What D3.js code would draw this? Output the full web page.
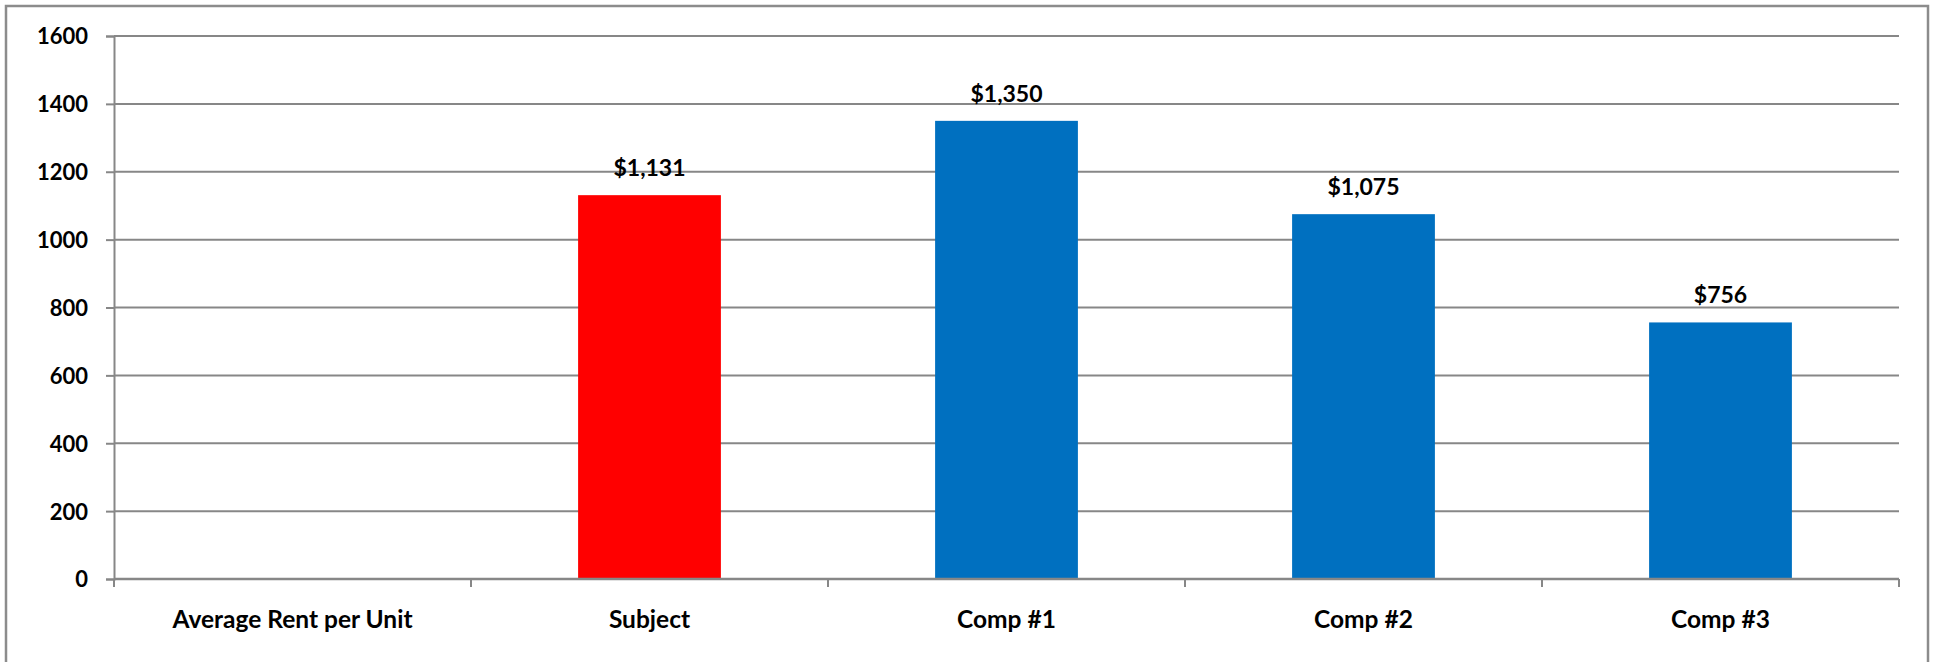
<!DOCTYPE html>
<html>
<head>
<meta charset="utf-8">
<script src="https://cdn.jsdelivr.net/npm/d3@7"></script>
<style>
  html, body { margin: 0; padding: 0; background: #fff; }
  svg { display: block; }
  text { font-family: Lato, "Open Sans", sans-serif; font-weight: bold; fill: #000; }
</style>
</head>
<body>
<svg id="chart" width="1942" height="662"></svg>
<script>
const categories = ["Average Rent per Unit", "Subject", "Comp #1", "Comp #2", "Comp #3"];
const values = [null, 1131, 1350, 1075, 756];
const valueLabels = ["", "$1,131", "$1,350", "$1,075", "$756"];
const barColors = ["#0070C0", "#FF0000", "#0070C0", "#0070C0", "#0070C0"];
const yTicks = [0, 200, 400, 600, 800, 1000, 1200, 1400, 1600];

const W = 1942, H = 662;
const margin = { left: 114, right: 43, top: 36, bottom: 83 };
const svg = d3.select("#chart");
const gridColor = "#878787";

// outer border
svg.append("rect")
  .attr("x", 6).attr("y", 6)
  .attr("width", 1922).attr("height", 680)
  .attr("fill", "none").attr("stroke", "#8c8c8c").attr("stroke-width", 2.5);

const x = d3.scaleBand().domain(categories)
  .range([margin.left, W - margin.right]).paddingInner(0).paddingOuter(0);
const y = d3.scaleLinear().domain([0, 1600]).range([H - margin.bottom, margin.top]);

// gridlines
svg.append("g").selectAll("line").data(yTicks.filter(d => d > 0)).join("line")
  .attr("x1", margin.left).attr("x2", W - margin.right)
  .attr("y1", d => y(d)).attr("y2", d => y(d))
  .attr("stroke", gridColor).attr("stroke-width", 2);

// y axis
const yAxis = svg.append("g").attr("transform", `translate(${margin.left},0)`)
  .call(d3.axisLeft(y).tickValues(yTicks).tickSize(8).tickPadding(18).tickFormat(d3.format("d")));
yAxis.select(".domain").attr("stroke", gridColor).attr("stroke-width", 2);
yAxis.selectAll(".tick line").attr("stroke", gridColor).attr("stroke-width", 2);
yAxis.selectAll(".tick text").attr("font-size", 22).attr("font-family", "Lato, sans-serif")
  .attr("font-weight", "bold").attr("fill", "#000").attr("dy", "0.36em");

// bars
const barW = x.bandwidth() * 0.4;
const barData = categories.map((c, i) => ({ c, v: values[i], label: valueLabels[i], color: barColors[i] }))
  .filter(d => d.v !== null);
svg.append("g").selectAll("rect").data(barData).join("rect")
  .attr("x", d => x(d.c) + (x.bandwidth() - barW) / 2)
  .attr("width", barW)
  .attr("y", d => y(d.v))
  .attr("height", d => y(0) - y(d.v))
  .attr("fill", d => d.color);

// value labels
svg.append("g").selectAll("text").data(barData).join("text")
  .attr("x", d => x(d.c) + x.bandwidth() / 2)
  .attr("y", d => y(d.v) - 19)
  .attr("text-anchor", "middle")
  .attr("font-size", 23)
  .text(d => d.label);

// x axis
const xAxisG = svg.append("g").attr("transform", `translate(0,${y(0)})`);
xAxisG.append("line")
  .attr("x1", margin.left).attr("x2", W - margin.right)
  .attr("y1", 0).attr("y2", 0)
  .attr("stroke", gridColor).attr("stroke-width", 2.5);
const boundaries = categories.map(c => x(c)).concat([x(categories[categories.length - 1]) + x.bandwidth()]);
xAxisG.selectAll("line.tk").data(boundaries).join("line").attr("class", "tk")
  .attr("x1", d => d).attr("x2", d => d).attr("y1", 0).attr("y2", 8)
  .attr("stroke", gridColor).attr("stroke-width", 2);
xAxisG.selectAll("text").data(categories).join("text")
  .attr("x", d => x(d) + x.bandwidth() / 2)
  .attr("y", 49)
  .attr("text-anchor", "middle")
  .attr("font-size", 24.5)
  .text(d => d);
</script>
</body>
</html>
